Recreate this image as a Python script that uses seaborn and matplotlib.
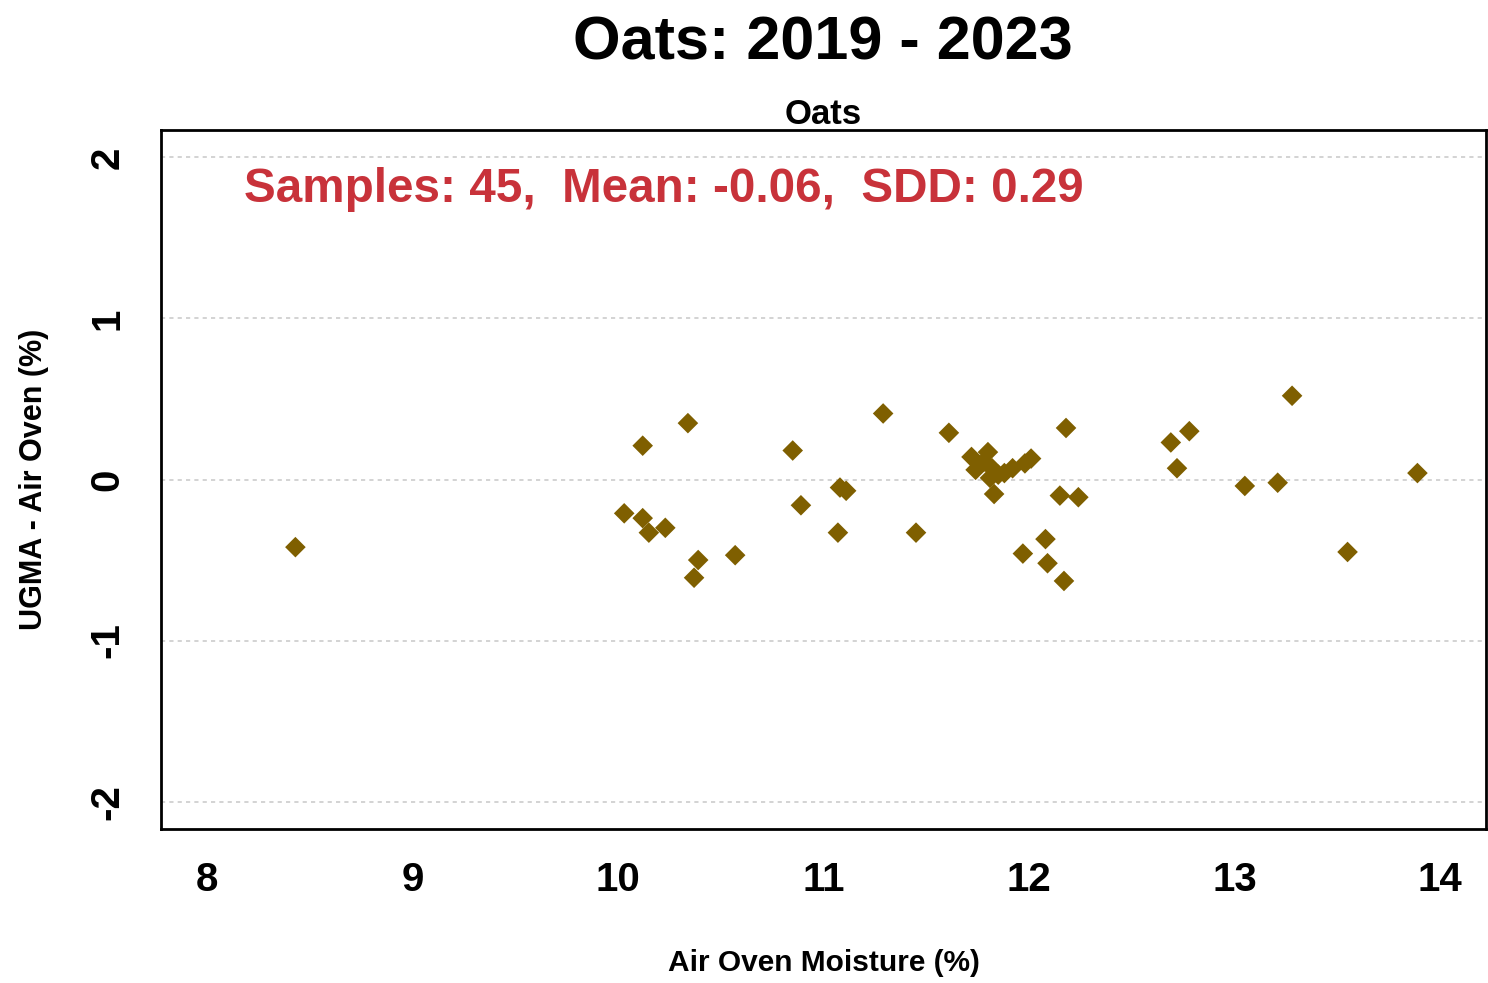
"""
Oats moisture comparison: UGMA minus air oven vs. air oven moisture
"""

import matplotlib
matplotlib.use('Agg')
import matplotlib.pyplot as plt
import seaborn as sns
import pandas as pd

# Data
air_oven = [
    8.43,
    10.03, 10.12, 10.15, 10.23, 10.12, 10.34, 10.39, 10.37, 10.57,
    10.85, 11.29, 11.08, 11.11, 10.89, 11.07, 11.45,
    11.61, 12.18, 11.83, 12.15, 12.24, 12.08, 11.97, 12.09, 12.17,
    11.72, 11.80, 11.74, 11.78, 11.82, 11.85, 11.88, 11.92, 11.98, 12.01, 11.81,
    12.69, 12.78, 12.72, 13.05, 13.21, 13.28, 13.55, 13.89,
]
diff = [
    -0.42,
    -0.21, -0.24, -0.33, -0.30, 0.21, 0.35, -0.50, -0.61, -0.47,
    0.18, 0.41, -0.05, -0.07, -0.16, -0.33, -0.33,
    0.29, 0.32, -0.09, -0.10, -0.11, -0.37, -0.46, -0.52, -0.63,
    0.14, 0.17, 0.06, 0.11, 0.07, 0.03, 0.04, 0.07, 0.10, 0.13, 0.01,
    0.23, 0.30, 0.07, -0.04, -0.02, 0.52, -0.45, 0.04,
]
x_ticks = [8, 9, 10, 11, 12, 13, 14]
y_ticks = [-2, -1, 0, 1, 2]

df = pd.DataFrame({'air_oven': air_oven, 'diff': diff})

sns.set_style("white")
plt.rcParams['font.family'] = ['Liberation Sans', 'DejaVu Sans']
plt.rcParams['text.color'] = 'black'
plt.rcParams['axes.labelcolor'] = 'black'
plt.rcParams['xtick.color'] = 'black'
plt.rcParams['ytick.color'] = 'black'

fig = plt.figure(figsize=(14.88, 9.83), dpi=100)
ax = fig.add_axes([0.1082, 0.1567, 0.8905, 0.711])

# Dotted reference lines at the y ticks
for yt in y_ticks:
    ax.axhline(yt, color='#cccccc', linestyle=(0, (2.5, 2.5)), linewidth=1.2, zorder=0)

sns.scatterplot(data=df, x='air_oven', y='diff', marker='D', s=110,
                color='#7f5f00', edgecolor='none', ax=ax, zorder=3)

ax.set_xlim(7.776, 14.224)
ax.set_ylim(-2.17, 2.17)
ax.set_xticks(x_ticks)
ax.set_yticks(y_ticks)
ax.set_xticklabels([str(t) for t in x_ticks], fontsize=29, fontweight='bold')
ax.set_yticklabels([str(t) for t in y_ticks], fontsize=29, fontweight='bold',
                   rotation=90, va='center')
ax.tick_params(axis='both', direction='out', length=11, width=1.5)
ax.tick_params(axis='x', pad=12)
ax.tick_params(axis='y', pad=14)

for sp in ax.spines.values():
    sp.set_color('black')
    sp.set_linewidth(2)

ax.set_xlabel('Air Oven Moisture (%)', fontsize=21.5, fontweight='bold', labelpad=36)
ax.set_ylabel('UGMA - Air Oven (%)', fontsize=22, fontweight='bold', labelpad=28)
ax.set_title('Oats', fontsize=25, fontweight='bold', pad=4)

fig.suptitle('Oats: 2019 - 2023', fontsize=44, fontweight='bold', x=0.553, y=0.984)

ax.text(8.18, 1.80, 'Samples: 45,  Mean: -0.06,  SDD: 0.29', color='#c8323a',
        fontsize=34.3, fontweight='bold', va='center', ha='left')

fig.savefig('out.png', dpi=100)
